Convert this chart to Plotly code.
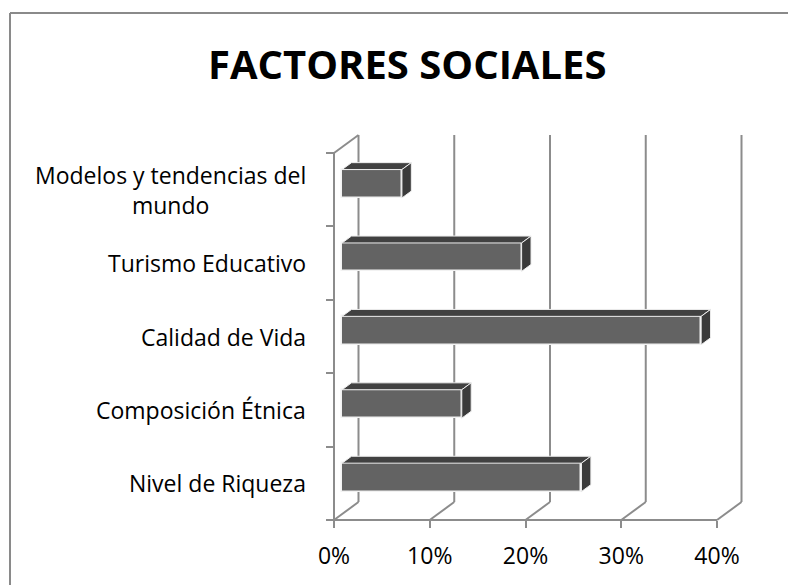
import plotly.graph_objects as go

# ---------------- data ----------------
categories = ["Nivel de Riqueza", "Composición Étnica", "Calidad de Vida",
              "Turismo Educativo", "Modelos y tendencias del<br>mundo"]
values = [25, 12.5, 37.5, 18.75, 6.25]          # percent
x_tick_vals = [0, 10, 20, 30, 40]
x_tick_text = ["0%", "10%", "20%", "30%", "40%"]
title_text = "FACTORES SOCIALES"

# ---------------- layout constants ----------------
OFF = 0                       # body margin removed by post_script
FIG_W, FIG_H = 788 - OFF, 585 - OFF
PX_PER_X = 9.575      # pixels per 1 %
PX_PER_Y = 73.4       # pixels per category
X0_PX, Y0_PX = 334 - OFF, 520 - OFF
ML, MR, MT, MB = 324 - OFF, 33, 127 - OFF, 54
PW = FIG_W - ML - MR
PH = FIG_H - MT - MB
XMIN = (ML - X0_PX) / PX_PER_X
XMAX = XMIN + PW / PX_PER_X
YMIN = (Y0_PX - (FIG_H - MB)) / PX_PER_Y
YMAX = YMIN + PH / PX_PER_Y

# pseudo-3D depth (wall depth in data units)
DXW = 24.5 / PX_PER_X
DYW = 18.0 / PX_PER_Y
Z_FRONT, Z_BACK = 0.33, 0.714
BAR_H = 28.4 / PX_PER_Y

def ppx(px):          # reference-image pixel -> paper
    return (px - OFF - ML) / PW

def ppy(py):
    return ((FIG_H - MB) - (py - OFF)) / PH

N = len(categories)
grid_col = "#8c8c8c"
font_family = "Open Sans"

fig = go.Figure()

bar_x0 = Z_FRONT * DXW
bar_dy0 = Z_FRONT * DYW
bdx = (Z_BACK - Z_FRONT) * DXW
bdy = (Z_BACK - Z_FRONT) * DYW
centers = [i + 0.5 + bar_dy0 for i in range(N)]

# side and top faces
for c, v in zip(centers, values):
    yb, yt = c - BAR_H / 2, c + BAR_H / 2
    x1 = bar_x0 + v
    fig.add_trace(go.Scatter(
        x=[bar_x0, x1, x1 + bdx, bar_x0 + bdx, bar_x0],
        y=[yt, yt, yt + bdy, yt + bdy, yt],
        mode="lines", fill="toself", fillcolor="#414141",
        line=dict(color="#eeeeee", width=1), hoverinfo="skip", showlegend=False))
    fig.add_trace(go.Scatter(
        x=[x1, x1, x1 + bdx, x1 + bdx, x1],
        y=[yb, yt, yt + bdy, yb + bdy, yb],
        mode="lines", fill="toself", fillcolor="#3b3b3b",
        line=dict(color="#eeeeee", width=1), hoverinfo="skip", showlegend=False))

# front faces
fig.add_trace(go.Bar(
    x=values, y=centers, base=bar_x0, orientation="h", width=BAR_H,
    marker=dict(color="#636363", line=dict(color="#f2f2f2", width=1.5)),
    hoverinfo="skip", showlegend=False))

# walls / gridlines
shapes = []
def seg(x0, y0, x1, y1):
    shapes.append(dict(type="line", xref="x", yref="y", x0=x0, y0=y0, x1=x1, y1=y1,
                       line=dict(color=grid_col, width=2), layer="below"))

for t in x_tick_vals:
    seg(t + DXW, DYW, t + DXW, N + DYW)     # back wall vertical
    seg(t, 0, t + DXW, DYW)                 # floor diagonal
seg(0, 0, x_tick_vals[-1], 0)               # front axis
seg(0, 0, 0, N)                             # left axis
seg(0, N, DXW, N + DYW)                     # left wall top edge

# outer border (only left and top edges visible)
shapes.append(dict(type="line", xref="paper", yref="paper",
                   x0=ppx(10), y0=ppy(13), x1=ppx(1000), y1=ppy(13),
                   line=dict(color="#8a8a8a", width=2), layer="below"))
shapes.append(dict(type="line", xref="paper", yref="paper",
                   x0=ppx(10), y0=ppy(13), x1=ppx(10), y1=ppy(800),
                   line=dict(color="#8a8a8a", width=2), layer="below"))

annotations = []
for i, name in enumerate(categories):
    annotations.append(dict(
        text=name, xref="paper", yref="y", x=ppx(308), y=i + 0.5,
        xanchor="right", yanchor="middle", align="center", showarrow=False,
        font=dict(family=font_family, size=23, color="#000000")))

annotations.append(dict(
    text=title_text, xref="paper", yref="paper", x=ppx(407), y=ppy(63),
    xanchor="center", yanchor="middle", showarrow=False,
    font=dict(family=font_family, size=40, color="#000000", weight=700)))

fig.update_layout(
    width=FIG_W, height=FIG_H, autosize=False,
    margin=dict(l=ML, r=MR, t=MT, b=MB, pad=0),
    paper_bgcolor="white", plot_bgcolor="white",
    shapes=shapes, annotations=annotations,
    xaxis=dict(range=[XMIN, XMAX], showgrid=False, zeroline=False, showline=False,
               tickmode="array", tickvals=x_tick_vals, ticktext=x_tick_text,
               ticks="outside", ticklen=7, tickwidth=2, tickcolor=grid_col,
               ticklabelstandoff=8,
               anchor="free", position=(0 - YMIN) / (YMAX - YMIN),
               tickfont=dict(family=font_family, size=23, color="#000000")),
    yaxis=dict(range=[YMIN, YMAX], showgrid=False, zeroline=False, showline=False,
               tickmode="array", tickvals=list(range(N + 1)),
               ticks="outside", ticklen=8, tickwidth=2, tickcolor=grid_col,
               showticklabels=False,
               anchor="free", position=(0 - XMIN) / (XMAX - XMIN)),
    bargap=0,
)

fig.write_html("out.html", config={"displayModeBar": False},
               post_script="document.body.style.margin='0';"
                           "document.body.style.overflow='hidden';")
